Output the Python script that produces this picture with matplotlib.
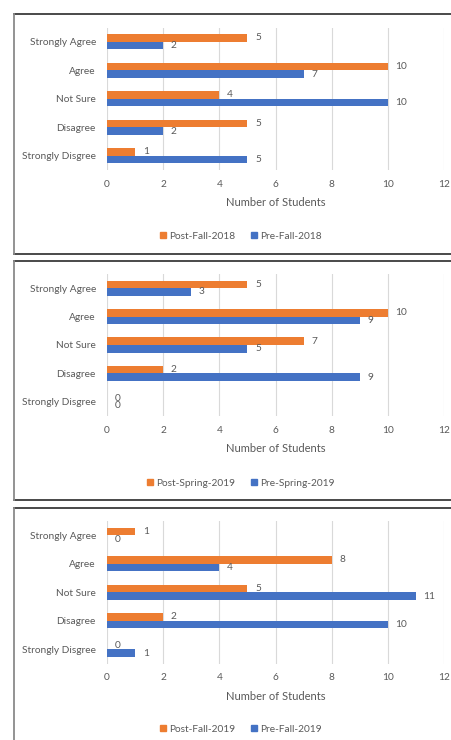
import matplotlib
matplotlib.use('Agg')
import matplotlib.pyplot as plt
from matplotlib.patches import Patch
from matplotlib.lines import Line2D

plt.rcParams['font.family'] = ['Lato', 'DejaVu Sans']

categories = ['Strongly Agree', 'Agree', 'Not Sure', 'Disagree', 'Strongly Disgree']

post_fall_2018 = [5, 10, 4, 5, 1]
pre_fall_2018 = [2, 7, 10, 2, 5]
post_spring_2019 = [5, 10, 7, 2, 0]
pre_spring_2019 = [3, 9, 5, 9, 0]
post_fall_2019 = [1, 8, 5, 2, 0]
pre_fall_2019 = [0, 4, 11, 10, 1]

series_names = [('Post-Fall-2018', 'Pre-Fall-2018'),
                ('Post-Spring-2019', 'Pre-Spring-2019'),
                ('Post-Fall-2019', 'Pre-Fall-2019')]
series_values = [(post_fall_2018, pre_fall_2018),
                 (post_spring_2019, pre_spring_2019),
                 (post_fall_2019, pre_fall_2019)]
x_ticks = [0, 2, 4, 6, 8, 10, 12]

ORANGE = '#ED7D31'
BLUE = '#4472C4'
TXT = '#595959'
GRID = '#D9D9D9'

W, H = 451, 740
fig = plt.figure(figsize=(W / 100, H / 100), dpi=100)

# pixel layout for each panel: plot top, plot bottom, xlabel y, legend y, border top, border bottom
layout = [(27.5, 170, 202, 236, 14, 253.5),
          (274, 416, 449, 483, 260.5, 500),
          (521, 663.5, 696, 729, 508, 745)]
x_left, x_right = 107, 444


def fx(px):
    return px / W


def fy(py):
    return 1 - py / H


fs = 7.3
for (names, vals), (ptop, pbot, ylab, yleg, btop, bbot) in zip(zip(series_names, series_values), layout):
    ax = fig.add_axes([fx(x_left), fy(pbot), fx(x_right - x_left), (pbot - ptop) / H])
    post, pre = vals
    ypos = list(range(len(categories)))
    h = 0.265
    ax.barh([y - h / 2 for y in ypos], post, height=h, color=ORANGE, zorder=3)
    ax.barh([y + h / 2 for y in ypos], pre, height=h, color=BLUE, zorder=3)
    for y, v in zip(ypos, post):
        ax.annotate(str(v), (v, y - h / 2), xytext=(5.5, 0), textcoords='offset points',
                    va='center', ha='left', fontsize=fs, color=TXT)
    for y, v in zip(ypos, pre):
        ax.annotate(str(v), (v, y + h / 2), xytext=(5.5, 0), textcoords='offset points',
                    va='center', ha='left', fontsize=fs, color=TXT)
    ax.set_xlim(0, 12)
    ax.set_ylim(len(categories) - 0.5, -0.5)
    ax.set_xticks(x_ticks)
    ax.set_yticks(ypos)
    ax.set_yticklabels(categories)
    ax.tick_params(axis='both', length=0, labelsize=fs, labelcolor=TXT)
    ax.tick_params(axis='y', pad=8)
    ax.tick_params(axis='x', pad=7)
    ax.grid(axis='x', color=GRID, linewidth=0.8, zorder=0)
    for s in ax.spines.values():
        s.set_visible(False)
    ax.set_xlabel('')
    fig.text(fx((x_left + x_right) / 2), fy(ylab), 'Number of Students', ha='center', va='center',
             fontsize=fs + 0.7, color=TXT)
    handles = [Patch(color=ORANGE), Patch(color=BLUE)]
    fig.legend(handles, list(names), loc='center', bbox_to_anchor=(fx(241), fy(yleg)), ncol=2,
               frameon=False, fontsize=fs, labelcolor=TXT, handlelength=0.6, handleheight=0.6,
               handletextpad=0.3, columnspacing=1.6, borderaxespad=0)
    # chart border (right side is cut off in the original)
    fig.add_artist(Line2D([fx(14), fx(460)], [fy(btop), fy(btop)], color='#3a3a3a', lw=1.3))
    fig.add_artist(Line2D([fx(14), fx(460)], [fy(bbot), fy(bbot)], color='#3a3a3a', lw=1.3))
    fig.add_artist(Line2D([fx(14), fx(14)], [fy(btop), fy(bbot)], color='#8a8a8a', lw=1.3))

fig.savefig('out.png', dpi=100)
